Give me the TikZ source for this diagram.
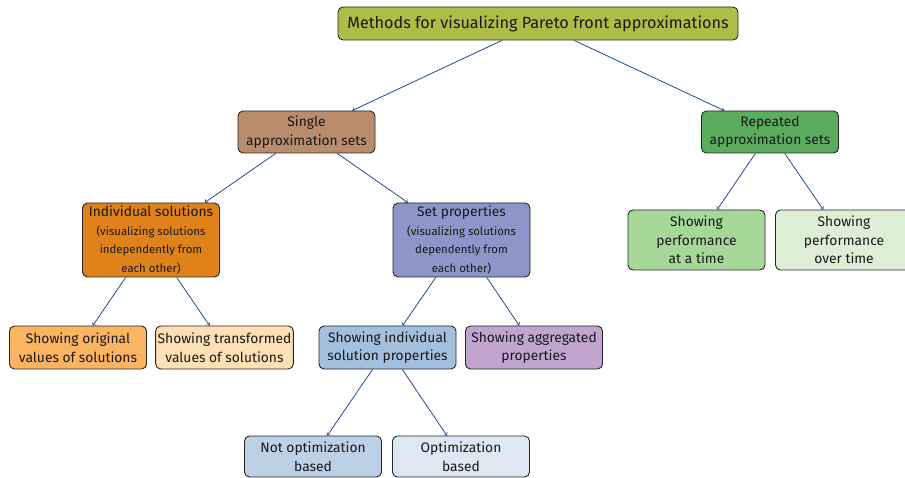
\documentclass[tikz,border=0pt]{standalone}
\usepackage{fontspec}
\setmainfont{Fira Sans}
\usepackage{tikz}

\definecolor{arrowblue}{RGB}{31,78,140}
\definecolor{cTop}{RGB}{174,189,72}
\definecolor{cSingle}{RGB}{185,140,110}
\definecolor{cRepeated}{RGB}{92,172,96}
\definecolor{cIndiv}{RGB}{224,130,26}
\definecolor{cSetprop}{RGB}{140,150,200}
\definecolor{cAttime}{RGB}{166,216,154}
\definecolor{cOvertime}{RGB}{220,239,213}
\definecolor{cOriginal}{RGB}{251,180,97}
\definecolor{cTransformed}{RGB}{253,224,181}
\definecolor{cSolprop}{RGB}{163,191,222}
\definecolor{cAggr}{RGB}{194,165,207}
\definecolor{cNotopt}{RGB}{188,209,230}
\definecolor{cOpt}{RGB}{221,232,242}

\newcommand{\notefont}{\fontsize{11.4}{17.3}\selectfont}

\begin{document}
\begin{tikzpicture}[x=1pt,y=-1pt,
    box/.style={draw=black!85, line width=0.9pt, rounded corners=5pt, align=center,
                minimum width=137pt, inner xsep=2pt, inner ysep=2pt, text=black!90,
                font=\fontsize{13.8}{18.5}\selectfont},
    link/.style={-to, arrowblue, line width=0.8pt}]
    \useasboundingbox (0,0) rectangle (905,478);

    % top level
    \node[box, fill=cTop, minimum width=400pt, minimum height=33pt,
          font=\fontsize{16.2}{18}\selectfont] (top) at (538,23.5)
          {Methods for visualizing Pareto front approximations};

    % second level
    \node[box, fill=cSingle, minimum height=42pt] (single) at (306.5,132)
          {Single\\approximation sets};
    \node[box, fill=cRepeated, minimum height=42pt] (repeated) at (770,132)
          {Repeated\\approximation sets};

    % third level
    \node[box, fill=cIndiv, minimum height=74pt] (indiv) at (151,240)
          {Individual solutions\\\notefont (visualizing solutions\\\notefont independently from\\\notefont each other)};
    \node[box, fill=cSetprop, minimum height=74pt] (setprop) at (461.5,240)
          {Set properties\\\notefont (visualizing solutions\\\notefont dependently from\\\notefont each other)};
    \node[box, fill=cAttime, minimum height=60pt] (attime) at (696.5,240)
          {Showing\\performance\\at a time};
    \node[box, fill=cOvertime, minimum height=60pt] (overtime) at (844,240)
          {Showing\\performance\\over time};

    % fourth level
    \node[box, fill=cOriginal, minimum height=43pt] (original) at (78,347.5)
          {Showing original\\values of solutions};
    \node[box, fill=cTransformed, minimum height=43pt] (transformed) at (224.5,347.5)
          {Showing transformed\\values of solutions};
    \node[box, fill=cSolprop, minimum height=43pt] (solprop) at (387.5,347.5)
          {Showing individual\\solution properties};
    \node[box, fill=cAggr, minimum height=43pt] (aggr) at (534,347.5)
          {Showing aggregated\\properties};

    % fifth level
    \node[box, fill=cNotopt, minimum height=41pt] (notopt) at (313,456.5)
          {Not optimization\\based};
    \node[box, fill=cOpt, minimum height=41pt] (opt) at (461,456.5)
          {Optimization\\based};

    \draw[link] (top) -- (single);
    \draw[link] (top) -- (repeated);
    \draw[link] (single) -- (indiv);
    \draw[link] (single) -- (setprop);
    \draw[link] (repeated) -- (attime);
    \draw[link] (repeated) -- (overtime);
    \draw[link] (indiv) -- (original);
    \draw[link] (indiv) -- (transformed);
    \draw[link] (setprop) -- (solprop);
    \draw[link] (setprop) -- (aggr);
    \draw[link] (solprop) -- (notopt);
    \draw[link] (solprop) -- (opt);
\end{tikzpicture}
\end{document}
